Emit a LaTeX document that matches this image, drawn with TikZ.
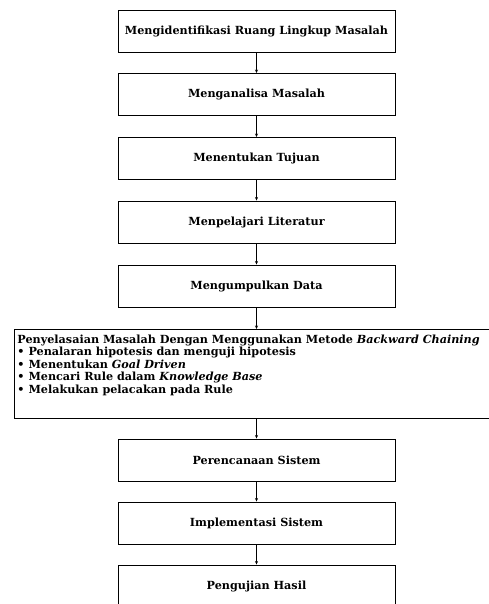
\documentclass[tikz,border=0pt]{standalone}
\usepackage{fontspec}
\setmainfont{DejaVu Serif}
\usetikzlibrary{arrows.meta}
\tikzset{
  stepbox/.style={draw, line width=0.9pt, minimum width=277pt, minimum height=42pt,
    inner sep=0pt, font=\bfseries\fontsize{11.2}{12.5}\selectfont},
  bigbox/.style={draw, line width=0.9pt, anchor=north west, inner xsep=3pt, inner ysep=5.5pt,
    font=\bfseries\fontsize{11.2}{12.5}\selectfont},
  flow/.style={-{Stealth[length=3.5pt,width=3pt]}, line width=0.8pt}
}
\begin{document}
\begin{tikzpicture}[x=1pt,y=-1pt]
      \useasboundingbox (0,0) rectangle (489,604);

      \node [stepbox] (ruang) at (256.5, 31) {Mengidentifikasi Ruang Lingkup Masalah};
      \node [stepbox] (analisa) at (256.5, 94.5) {Menganalisa Masalah};
      \node [stepbox] (tujuan) at (256.5, 158.5) {Menentukan Tujuan};
      \node [stepbox] (literatur) at (256.5, 222) {Menpelajari Literatur};
      \node [stepbox] (data) at (256.5, 286) {Mengumpulkan Data};

      \node [bigbox] (metode) at (14, 329) {\parbox[t][78pt][t]{482pt}{%
        Penyelasaian Masalah Dengan Menggunakan Metode \textit{Backward Chaining}\\
        • Penalaran hipotesis dan menguji hipotesis\\
        • Menentukan \textit{Goal Driven}\\
        • Mencari Rule dalam \textit{Knowledge Base}\\
        • Melakukan pelacakan pada Rule}};

      \node [stepbox] (rencana) at (256.5, 460) {Perencanaan Sistem};
      \node [stepbox] (implementasi) at (256.5, 523) {Implementasi Sistem};
      \node [stepbox] (uji) at (256.5, 586) {Pengujian Hasil};

      \draw [flow] (ruang) -- (analisa);
      \draw [flow] (analisa) -- (tujuan);
      \draw [flow] (tujuan) -- (literatur);
      \draw [flow] (literatur) -- (data);
      \draw [flow] (data.south) -- (data.south |- metode.north);
      \draw [flow] (rencana.north |- metode.south) -- (rencana.north);
      \draw [flow] (rencana) -- (implementasi);
      \draw [flow] (implementasi) -- (uji);

    \end{tikzpicture}
\end{document}
